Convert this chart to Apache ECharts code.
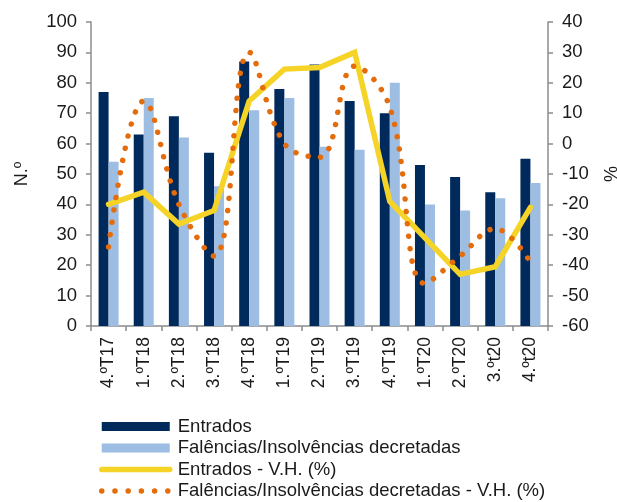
<!DOCTYPE html>
<html>
<head>
<meta charset="utf-8">
<script src="https://cdn.jsdelivr.net/npm/echarts@6/dist/echarts.min.js"></script>
<style>
  html, body { margin: 0; padding: 0; background: #fff; }
  #chart { width: 617px; height: 502px; }
</style>
</head>
<body>
<div id="chart"></div>
<script>
// Quarters
const categories = ['4.ºT17', '1.ºT18', '2.ºT18', '3.ºT18', '4.ºT18', '1.ºT19', '2.ºT19',
  '3.ºT19', '4.ºT19', '1.ºT20', '2.ºT20', '3.ºt20', '4.ºt20'];

// Number of processes (left axis)
const entrados = [77, 63, 69, 57, 87, 78, 86, 74, 70, 53, 49, 44, 55];
const falencias = [54, 75, 62, 46, 71, 75, 59, 58, 80, 40, 38, 42, 47];

// Year-on-year change, % (right axis)
const entradosVH = [-20, -16, -26.5, -22, 14, 24.5, 25, 30, -19, -31, -43, -40.5, -21];
const falenciasVH = [-34, 14, -20, -37, 30, 0, -4.5, 25.5, 12, -46, -37, -28, -39];

// Axis ticks
const leftTicks = { min: 0, max: 100, interval: 10 };
const rightTicks = { min: -60, max: 40, interval: 10 };

const FONT = 'Liberation Sans, Arial, sans-serif';
const TXT = '#1a1a1a';
const AXIS = '#8c8c8c';
const YELLOW = '#f5d327';
const ORANGE = '#e46c0a';

const yellowLine = { color: YELLOW, width: 5.5, cap: 'round', join: 'miter' };
const orangeDots = { color: ORANGE, width: 5.5, type: [0.01, 12.5], cap: 'round' };

const chart = echarts.init(document.getElementById('chart'), null, { renderer: 'canvas' });

const axisCommon = {
  axisLine: { show: true, lineStyle: { color: AXIS, width: 1.5 } },
  axisTick: { show: true, length: 5, lineStyle: { color: AXIS, width: 1.5 } },
  splitLine: { show: false },
  axisLabel: { color: TXT, fontFamily: FONT, fontSize: 18.5, margin: 14 }
};

// Line entries in the legend show only the stroke, no marker
const hideMarker = { opacity: 0 };

chart.setOption({
  animation: false,
  backgroundColor: '#fff',
  grid: { left: 91, right: 69, top: 22, bottom: 176, outerBoundsMode: 'none', containLabel: false },
  legend: {
    orient: 'vertical',
    left: 99,
    top: 417,
    itemWidth: 68,
    itemHeight: 9,
    itemGap: 2.5,
    padding: 0,
    textStyle: { color: TXT, fontFamily: FONT, fontSize: 18.5, lineHeight: 19, padding: [0, 0, 0, 3] },
    data: [
      { name: 'Entrados', icon: 'rect' },
      { name: 'Falências/Insolvências decretadas', icon: 'rect' },
      { name: 'Entrados - V.H. (%)', itemStyle: hideMarker, lineStyle: yellowLine },
      { name: 'Falências/Insolvências decretadas - V.H. (%)', itemStyle: hideMarker,
        lineStyle: { color: ORANGE, width: 5.5, type: [0.01, 13.2], cap: 'round' } }
    ]
  },
  xAxis: {
    type: 'category',
    data: categories,
    boundaryGap: true,
    axisLine: { show: true, lineStyle: { color: AXIS, width: 1.5 } },
    axisTick: { show: true, length: 5, alignWithLabel: false, lineStyle: { color: AXIS, width: 1.5 } },
    axisLabel: { color: TXT, fontFamily: FONT, fontSize: 17.5, rotate: 90, margin: 11, interval: 0 }
  },
  yAxis: [
    Object.assign({}, axisCommon, {
      type: 'value',
      position: 'left',
      min: leftTicks.min, max: leftTicks.max, interval: leftTicks.interval,
      name: 'N.º',
      nameLocation: 'middle',
      nameRotate: 90,
      nameGap: 60,
      nameTextStyle: { color: TXT, fontFamily: FONT, fontSize: 18 }
    }),
    Object.assign({}, axisCommon, {
      type: 'value',
      position: 'right',
      min: rightTicks.min, max: rightTicks.max, interval: rightTicks.interval,
      name: '%',
      nameLocation: 'middle',
      nameRotate: -90,
      nameGap: 52,
      nameTextStyle: { color: TXT, fontFamily: FONT, fontSize: 18 }
    })
  ],
  series: [
    {
      name: 'Entrados',
      type: 'bar',
      yAxisIndex: 0,
      data: entrados,
      barWidth: 10,
      barGap: '0%',
      itemStyle: { color: '#002a5c' }
    },
    {
      name: 'Falências/Insolvências decretadas',
      type: 'bar',
      yAxisIndex: 0,
      data: falencias,
      barWidth: 10,
      barGap: '0%',
      itemStyle: { color: '#9ebde3' }
    },
    {
      name: 'Entrados - V.H. (%)',
      type: 'line',
      yAxisIndex: 1,
      data: entradosVH,
      symbol: 'none',
      showSymbol: false,
      lineStyle: yellowLine,
      itemStyle: { color: YELLOW }
    },
    {
      name: 'Falências/Insolvências decretadas - V.H. (%)',
      type: 'line',
      yAxisIndex: 1,
      data: falenciasVH,
      smooth: 0.4,
      symbol: 'none',
      showSymbol: false,
      lineStyle: orangeDots,
      itemStyle: { color: ORANGE }
    }
  ]
});
</script>
</body>
</html>
